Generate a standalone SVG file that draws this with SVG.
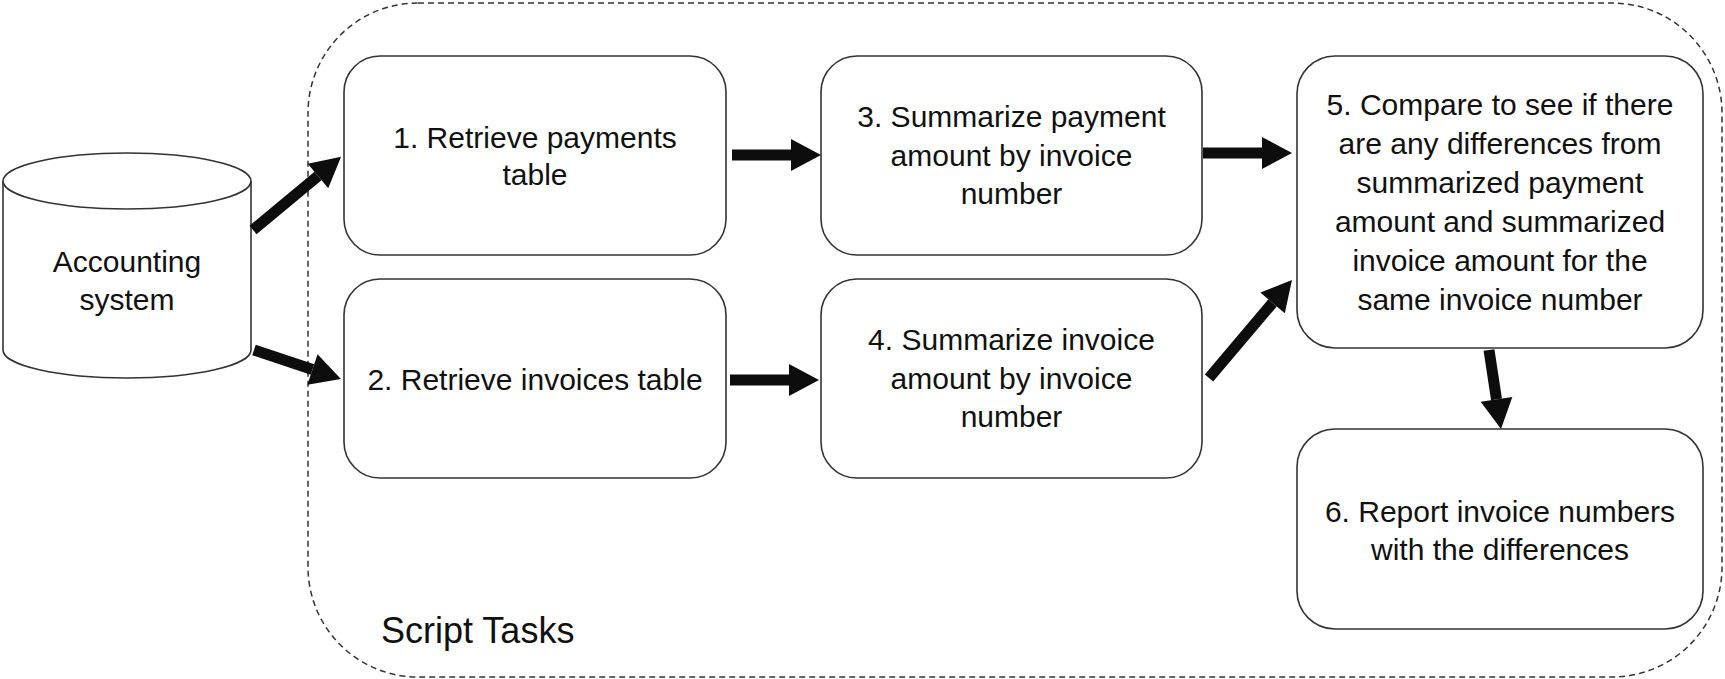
<svg xmlns="http://www.w3.org/2000/svg" width="1725" height="679" viewBox="0 0 1725 679">
<style>
.box{fill:#fff;stroke:#333;stroke-width:1.6}
.t{font-family:"Liberation Sans",Arial,sans-serif;font-size:30px;fill:#111;text-anchor:middle}
.shaft{stroke:#0d0d0d;stroke-width:11;fill:none}
.cont{fill:none;stroke:#333;stroke-width:1.5;stroke-dasharray:6 4}
</style>
<defs>
<marker id="ah" markerUnits="userSpaceOnUse" markerWidth="30" markerHeight="32" refX="0" refY="16" orient="auto" overflow="visible">
<path d="M0,0 L30,16 L0,32 Z" fill="#0d0d0d"/>
</marker>
</defs>
<rect width="1725" height="679" fill="#fff"/>
<g id="container">
<rect class="cont" x="308" y="3" width="1414" height="674" rx="110"/>
<text x="381" y="643" style="font-family:'Liberation Sans',Arial,sans-serif;font-size:36px;fill:#111">Script Tasks</text>
</g>
<g id="accounting">
<path class="box" d="M3,181 L3,350 A124,28 0 0 0 251,350 L251,181"/>
<ellipse class="box" cx="127" cy="181" rx="124" ry="28"/>
<text class="t" x="127" y="272">Accounting</text>
<text class="t" x="127" y="310">system</text>
</g>
<g id="n1">
<rect class="box" x="344" y="56" width="382" height="199" rx="36"/>
<text class="t" x="535" y="148">1. Retrieve payments</text>
<text class="t" x="535" y="185">table</text>
</g>
<g id="n2">
<rect class="box" x="344" y="279" width="382" height="199" rx="36"/>
<text class="t" x="535" y="390">2. Retrieve invoices table</text>
</g>
<g id="n3">
<rect class="box" x="821" y="56" width="381" height="199" rx="36"/>
<text class="t" x="1011.5" y="127">3. Summarize payment</text>
<text class="t" x="1011.5" y="166">amount by invoice</text>
<text class="t" x="1011.5" y="204">number</text>
</g>
<g id="n4">
<rect class="box" x="821" y="279" width="381" height="199" rx="36"/>
<text class="t" x="1011.5" y="350">4. Summarize invoice</text>
<text class="t" x="1011.5" y="389">amount by invoice</text>
<text class="t" x="1011.5" y="427">number</text>
</g>
<g id="n5">
<rect class="box" x="1297" y="56" width="406" height="292" rx="38"/>
<text class="t" x="1500" y="115">5. Compare to see if there</text>
<text class="t" x="1500" y="154">are any differences from</text>
<text class="t" x="1500" y="193">summarized payment</text>
<text class="t" x="1500" y="232">amount and summarized</text>
<text class="t" x="1500" y="271">invoice amount for the</text>
<text class="t" x="1500" y="310">same invoice number</text>
</g>
<g id="n6">
<rect class="box" x="1297" y="429" width="406" height="200" rx="38"/>
<text class="t" x="1500" y="522">6. Report invoice numbers</text>
<text class="t" x="1500" y="560">with the differences</text>
</g>
<g id="connectors">
<line class="shaft" x1="253" y1="230" x2="318" y2="176" marker-end="url(#ah)"/>
<line class="shaft" x1="254" y1="350" x2="312.5" y2="369.5" marker-end="url(#ah)"/>
<line class="shaft" x1="732" y1="155" x2="791" y2="155" marker-end="url(#ah)"/>
<line class="shaft" x1="730" y1="380" x2="789" y2="380" marker-end="url(#ah)"/>
<line class="shaft" x1="1203" y1="153" x2="1262" y2="153" marker-end="url(#ah)"/>
<line class="shaft" x1="1209" y1="378" x2="1272.6" y2="302.9" marker-end="url(#ah)"/>
<line class="shaft" x1="1489" y1="350" x2="1496.5" y2="399.3" marker-end="url(#ah)"/>
</g>
</svg>
